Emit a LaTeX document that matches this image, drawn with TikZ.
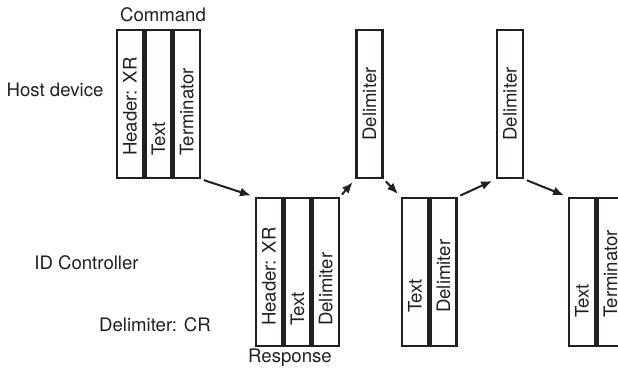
\documentclass[tikz,border=0pt]{standalone}
\usepackage{fontspec}
\setmainfont{TeX Gyre Heros}
\usetikzlibrary{positioning,arrows.meta}
\definecolor{ink}{HTML}{231F20}

\begin{document}
\begin{tikzpicture}[x=0.5pt,y=0.5pt,
    every node/.style={font=\fontsize{9.3}{11}\selectfont,text=ink},
    field/.style={draw=ink,line width=1.2pt,minimum width=13pt,minimum height=74pt,inner sep=0pt},
    fieldtext/.style={rotate=90,anchor=west,inner sep=0pt},
    flow/.style={-{Latex[length=5.5pt,width=4.5pt]},draw=ink,line width=1pt,shorten <=1.5pt,shorten >=2pt}]
    \useasboundingbox (0,0) rectangle (618,371);
    % side labels
    \node (host) at (55,281) {Host device};
    \node (idctrl) at (86.5,108) {ID Controller};
    \node (delimcr) at (155,46) {Delimiter: CR};
    % command from the host
    \node[field] (cmdhdr) at (130,267) {};
    \node[field,right=0pt of cmdhdr] (cmdtxt) {};
    \node[field,right=0pt of cmdtxt] (cmdterm) {};
    \node (cmd) at (163,356) {Command};
    \foreach \f/\t in {cmdhdr/Header: XR,cmdtxt/Text,cmdterm/Terminator} {
      \node[fieldtext] (\f t) at ([yshift=11.5pt]\f.south) {\t};
    }
    % delimiters in the top row
    \node[field] (dlm1) at (369.5,267) {};
    \node[field] (dlm2) at (510,267) {};
    \foreach \f in {dlm1,dlm2} { \node[rotate=90] (\f t) at (\f) {Delimiter}; }
    % response from the controller
    \node[field] (rsphdr) at (269,99) {};
    \node[field,right=0pt of rsphdr] (rsptxt) {};
    \node[field,right=0pt of rsptxt] (rspdlm) {};
    \node (rsp) at (290,13) {Response};
    \foreach \f/\t in {rsphdr/Header: XR,rsptxt/Text,rspdlm/Delimiter} {
      \node[fieldtext] (\f t) at ([yshift=10.5pt]\f.south) {\t};
    }
    % following parts
    \node[field] (part2txt) at (415,99) {};
    \node[field,right=0pt of part2txt] (part2dlm) {};
    \node[field] (part3txt) at (582,99) {};
    \node[field,right=0pt of part3txt] (part3term) {};
    \foreach \f/\t in {part2txt/Text,part2dlm/Delimiter} {
      \node[fieldtext] (\f t) at ([yshift=17pt]\f.south) {\t};
    }
    \foreach \f/\t in {part3txt/Text,part3term/Terminator} {
      \node[fieldtext] (\f t) at ([yshift=14.5pt]\f.south) {\t};
    }
    % sequence arrows
    \draw[flow] (cmdterm.south east) -- (rsphdr.north west);
    \draw[flow] (rspdlm.north east) -- (dlm1.south west);
    \draw[flow] (dlm1.south east) -- (part2txt.north west);
    \draw[flow] (part2dlm.north east) -- (dlm2.south west);
    \draw[flow] (dlm2.south east) -- (part3txt.north west);
\end{tikzpicture}
\end{document}
